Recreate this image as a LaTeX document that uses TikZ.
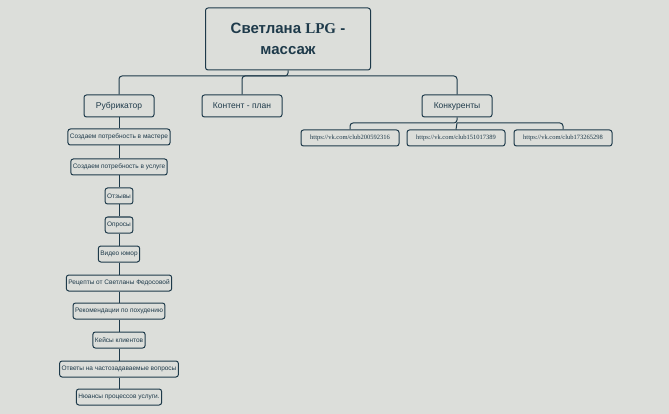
\documentclass[tikz,border=0pt]{standalone}
\usepackage{fontspec}
\setmainfont{Liberation Sans}
\newfontfamily\serif{Liberation Serif}
\begin{document}
\begin{tikzpicture}[x=1pt,y=-1pt,
  ink/.style={draw=ln,line width=1pt,rounded corners=2.5pt},
  small/.style={ink,fill=bg,font=\fontsize{6.5}{7}\selectfont,inner sep=2pt,minimum height=16pt,text=ln},
  mid/.style={ink,fill=bg,font=\fontsize{8.5}{9}\selectfont,inner sep=3pt,minimum height=22pt,text=ln},
  link/.style={small,font=\serif\fontsize{6.5}{7}\selectfont,minimum width=98pt},
  wire/.style={draw=ln,line width=1pt,rounded corners=3pt}]
\definecolor{bg}{HTML}{DCDEDA}
\definecolor{ln}{HTML}{1E3A4A}
\fill[bg] (0,0) rectangle (669,414);
\useasboundingbox (0,0) rectangle (669,414);
\node[ink,fill=bg,minimum width=165pt,minimum height=62pt,align=center,text=ln,font=\bfseries\fontsize{15}{21}\selectfont] (root) at (288,39) {Светлана {\serif LPG} -\\массаж};
\node[mid,minimum width=70pt] (rub) at (119,106) {Рубрикатор};
\node[mid,minimum width=80pt] (kp) at (242,106) {Контент - план};
\node[mid,minimum width=70pt] (kon) at (457,106) {Конкуренты};
\node[link] (l1) at (350,138) {https://vk.com/club200592316};
\node[link] (l2) at (456,138) {https://vk.com/club151017389};
\node[link] (l3) at (563,138) {https://vk.com/club173265298};
\foreach \n/\y/\t in {a/137/Создаем потребность в мастере, b/167/Создаем потребность в услуге, c/196/Отзывы, d/225/Опросы, e/254/Видео юмор, f/283/Рецепты от Светланы Федосовой, g/311/Рекомендации по похудению, h/340/Кейсы клиентов, i/369/Ответы на частозадаваемые вопросы, j/397/Нюансы процессов услуги.}
  \node[small] (\n) at (119,\y) {\t};
\draw[wire] (root.south) -- (288,76) -| (rub.north);
\draw[wire] (288,76) -| (kp.north);
\draw[wire] (288,76) -| (kon.north);
\draw[wire] (kon.south) -- (457,123) -| (l1.north);
\draw[wire] (457,123) -| (l3.north);
\draw[wire] (457,123) -- (l2.north);
\draw[wire] (rub) -- (a) (a) -- (b) (b) -- (c) (c) -- (d) (d) -- (e) (e) -- (f) (f) -- (g) (g) -- (h) (h) -- (i) (i) -- (j);
\end{tikzpicture}
\end{document}
